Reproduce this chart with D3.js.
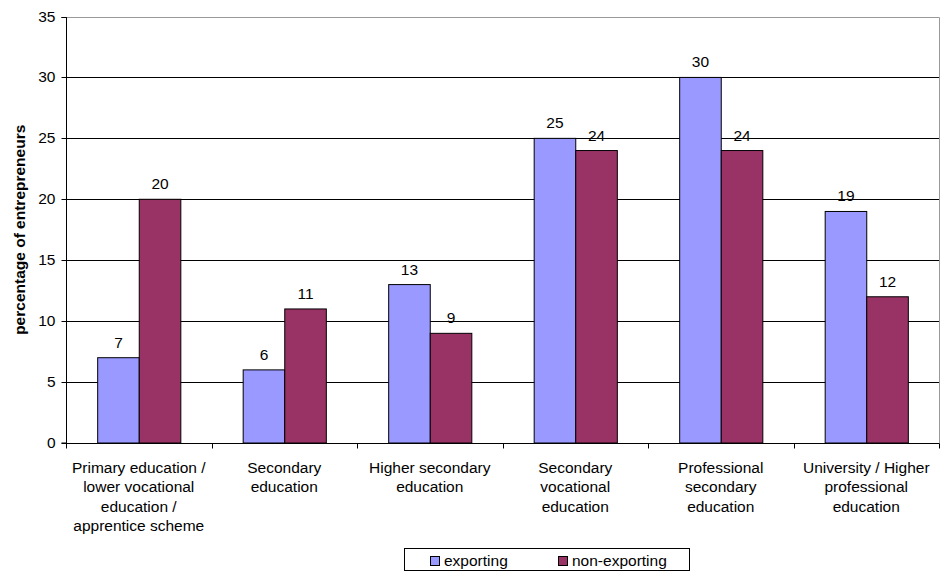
<!DOCTYPE html>
<html>
<head>
<meta charset="utf-8">
<script src="https://cdn.jsdelivr.net/npm/d3@7/dist/d3.min.js"></script>
<style>
  body { margin: 0; background: #fff; }
  text { font-family: "Liberation Sans", Arial, sans-serif; fill: #000; }
</style>
</head>
<body>
<svg id="chart" width="943" height="572"></svg>
<script>
const categories = [
  ["Primary education /", "lower vocational", "education /", "apprentice scheme"],
  ["Secondary", "education"],
  ["Higher secondary", "education"],
  ["Secondary", "vocational", "education"],
  ["Professional", "secondary", "education"],
  ["University / Higher", "professional", "education"]
];
const seriesNames = ["exporting", "non-exporting"];
const exporting = [7, 6, 13, 25, 30, 19];
const nonExporting = [20, 11, 9, 24, 24, 12];
const yTicks = [0, 5, 10, 15, 20, 25, 30, 35];
const colors = ["#9999ff", "#993366"];

const svg = d3.select("#chart");
const m = { left: 66, top: 16.5, right: 939, bottom: 443 };

const x0 = d3.scaleBand().domain(d3.range(categories.length)).range([m.left, m.right]).padding(0);
const x1 = d3.scaleBand().domain([0, 1]).range([0, x0.bandwidth()]).paddingOuter(0.75).paddingInner(0);
const y = d3.scaleLinear().domain([0, 35]).range([m.bottom, m.top]);

// gridlines
svg.append("g").selectAll("line").data(yTicks.filter(t => t > 0 && t < 35)).join("line")
  .attr("x1", m.left).attr("x2", m.right)
  .attr("y1", d => Math.round(y(d)) + 0.5).attr("y2", d => Math.round(y(d)) + 0.5)
  .attr("stroke", "#000").attr("stroke-width", 1);

// plot frame (top and right)
svg.append("path")
  .attr("d", `M${m.left},${Math.round(m.top) + 0.5}H${m.right + 0.5}V${m.bottom}`)
  .attr("fill", "none").attr("stroke", "#999").attr("stroke-width", 1);

const data = categories.map((c, i) => [exporting[i], nonExporting[i]]);

// bars
const groups = svg.append("g").selectAll("g").data(data).join("g")
  .attr("transform", (d, i) => `translate(${x0(i)},0)`);
groups.selectAll("rect").data(d => d.map((v, s) => ({ v, s }))).join("rect")
  .attr("x", d => x1(d.s) + 0.5)
  .attr("y", d => y(d.v))
  .attr("width", x1.bandwidth())
  .attr("height", d => y(0) - y(d.v))
  .attr("fill", d => colors[d.s])
  .attr("stroke", "#000").attr("stroke-width", 1);
groups.selectAll("text").data(d => d.map((v, s) => ({ v, s }))).join("text")
  .attr("x", d => x1(d.s) + x1.bandwidth() / 2 + 0.5)
  .attr("y", d => y(d.v) - 10)
  .attr("text-anchor", "middle")
  .attr("font-size", 15.5)
  .text(d => d.v);

// y axis
const yAxis = svg.append("g").attr("transform", `translate(${m.left + 0.5},0)`)
  .call(d3.axisLeft(y).tickValues(yTicks).tickSize(5).tickPadding(6));
yAxis.select(".domain").attr("stroke", "#000").attr("d", `M-5,${Math.round(m.top)+0.5}H0V${m.bottom}H-5`);
yAxis.selectAll(".tick line").attr("stroke", "#000");
yAxis.selectAll(".tick").attr("transform", d => `translate(0,${Math.round(y(d)) + 0.5})`);
yAxis.selectAll("text").attr("font-size", 15.5).attr("font-family", "Liberation Sans, Arial, sans-serif").attr("fill", "#000");

// x axis
const xAxis = svg.append("g").attr("transform", `translate(0,${m.bottom + 0.5})`);
xAxis.append("line").attr("x1", m.left).attr("x2", m.right + 0.5).attr("stroke", "#000");
xAxis.selectAll(".xt").data(d3.range(categories.length + 1)).join("line")
  .attr("class", "xt")
  .attr("x1", i => Math.round(m.left + i * x0.bandwidth()) + 0.5)
  .attr("x2", i => Math.round(m.left + i * x0.bandwidth()) + 0.5)
  .attr("y1", 0).attr("y2", 5).attr("stroke", "#000");

const labels = svg.append("g").selectAll("text").data(categories).join("text")
  .attr("text-anchor", "middle")
  .attr("font-size", 15.5)
  .attr("x", (d, i) => x0(i) + x0.bandwidth() / 2)
  .attr("y", 472.5);
labels.selectAll("tspan").data(d => d).join("tspan")
  .attr("x", function () { return d3.select(this.parentNode).attr("x"); })
  .attr("dy", (d, j) => j === 0 ? 0 : 19.5)
  .text(d => d);

// y axis title
svg.append("text")
  .attr("transform", `translate(25,${(m.top + m.bottom) / 2}) rotate(-90)`)
  .attr("text-anchor", "middle")
  .attr("font-size", 15.5)
  .attr("font-weight", "bold")
  .text("percentage of entrepreneurs");

// legend
const lg = svg.append("g");
lg.append("rect").attr("x", 404.5).attr("y", 548.5).attr("width", 285).attr("height", 22)
  .attr("fill", "#fff").attr("stroke", "#000");
const legendX = [430, 558];
seriesNames.forEach((name, i) => {
  lg.append("rect").attr("x", legendX[i] + 0.5).attr("y", 556.5).attr("width", 9).attr("height", 9)
    .attr("fill", colors[i]).attr("stroke", "#000");
  lg.append("text").attr("x", legendX[i] + 14).attr("y", 566).attr("font-size", 15.5).text(name);
});
</script>
</body>
</html>
